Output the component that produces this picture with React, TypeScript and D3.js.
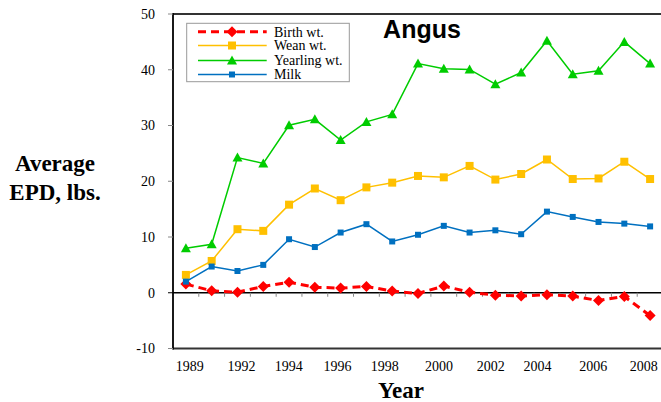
import React from 'react';
import * as d3 from 'd3';

const categories = ['1989','1991','1992','1993','1994','1995','1996','1997','1998','1999','2000','2001','2002','2003','2004','2005','2006','2007','2008'];
const birthWt = [1.55,0.35,0.1,1.13,1.9,1.0,0.83,1.13,0.3,-0.13,1.2,0.1,-0.43,-0.6,-0.36,-0.6,-1.4,-0.66,-4.1];
const weanWt = [3.2,5.7,11.4,11.1,15.8,18.7,16.6,18.9,19.75,20.95,20.7,22.75,20.3,21.3,23.9,20.4,20.5,23.5,20.4];
const yearlingWt = [8.0,8.7,24.25,23.2,30.05,31.1,27.4,30.65,32.0,41.1,40.2,40.05,37.4,39.5,45.2,39.2,39.8,45.0,41.1];
const milk = [2.0,4.7,3.9,5.0,9.6,8.2,10.8,12.3,9.2,10.4,12.0,10.8,11.2,10.5,14.55,13.6,12.7,12.4,11.9];
const yTicks = [-10,0,10,20,30,40,50];
const xTickLabels = ['1989','1992','1994','1996','1998','2000','2002','2004','2006','2008'];
const xTickLabelIndex = [0.15,2.16,3.99,5.88,7.71,9.81,11.82,13.63,15.8,17.75];

const seriesNames = ['Birth wt.','Wean wt.','Yearling wt.','Milk'];

const SERIF = "'Liberation Serif', 'Times New Roman', Times, serif";
const SANS = "'Liberation Sans', Arial, Helvetica, sans-serif";

export default function App() {
  const W = 661, H = 402;
  const left = 173, right = 663, top = 14, bottom = 348.5;
  const x = d3.scaleBand<number>().domain(d3.range(categories.length)).range([left, right]).paddingInner(0).paddingOuter(0);
  const bw = x.bandwidth();
  const cx = (i: number) => (x(i) as number) + bw / 2;
  const xLin = d3.scaleLinear().domain([0, categories.length - 1]).range([cx(0), cx(categories.length - 1)]);
  const y = d3.scaleLinear().domain([-10, 50]).range([bottom, top]);
  const line = d3.line<number>().x((_, i) => cx(i)).y(d => y(d));

  const series = [
    { name: seriesNames[0], data: birthWt, color: '#FF0000', width: 3, dash: '8,5', marker: 'diamond', size: 5.5 },
    { name: seriesNames[1], data: weanWt, color: '#FFC000', width: 1.5, dash: undefined, marker: 'square', size: 4 },
    { name: seriesNames[2], data: yearlingWt, color: '#00CC00', width: 1.5, dash: undefined, marker: 'triangle', size: 5 },
    { name: seriesNames[3], data: milk, color: '#0070C0', width: 1.5, dash: undefined, marker: 'square', size: 3 },
  ];

  const marker = (kind: string, px: number, py: number, s: number, color: string, key: string | number) => {
    if (kind === 'diamond') {
      return <path key={key} d={`M${px},${py - s}L${px + s},${py}L${px},${py + s}L${px - s},${py}Z`} fill={color} />;
    }
    if (kind === 'triangle') {
      return <path key={key} d={`M${px},${py - s}L${px + s},${py + s * 0.8}L${px - s},${py + s * 0.8}Z`} fill={color} />;
    }
    return <rect key={key} x={px - s} y={py - s} width={2 * s} height={2 * s} fill={color} />;
  };

  const legendRows = [31.7, 45.5, 60.5, 74.5];

  return (
    <svg width={W} height={H} style={{ position: 'absolute', left: 0, top: 0, background: '#fff' }}>
      <line x1={left} x2={W} y1={top} y2={top} stroke="#333" strokeWidth={1.8} />
      <line x1={left} x2={W} y1={bottom} y2={bottom} stroke="#333" strokeWidth={1.8} />
      <line x1={left} x2={left} y1={top - 0.9} y2={bottom + 0.9} stroke="#000" strokeWidth={1.8} />
      {yTicks.map(t => (
        <g key={t}>
          <line x1={left - 5} x2={left} y1={y(t)} y2={y(t)} stroke={t === 0 ? '#000' : '#888'} strokeWidth={1} />
          <text x={155} y={y(t)} dy="0.35em" textAnchor="end" fontFamily={SERIF} fontSize={14} fill="#000">{t}</text>
        </g>
      ))}
      <line x1={left} x2={W} y1={y(0)} y2={y(0)} stroke="#000" strokeWidth={1.5} />
      {d3.range(1, categories.length).map(i => (
        <line key={i} x1={x(i) as number} x2={x(i) as number} y1={y(0)} y2={y(0) + 4} stroke="#888" strokeWidth={1} />
      ))}
      {xTickLabels.map((l, i) => (
        <text key={l} x={xLin(xTickLabelIndex[i])} y={371} textAnchor="middle" fontFamily={SERIF} fontSize={14} fill="#000">{l}</text>
      ))}
      {series.map(s => (
        <g key={s.name}>
          <path d={line(s.data) || ''} fill="none" stroke={s.color} strokeWidth={s.width} strokeDasharray={s.dash} />
          {s.data.map((v, i) => marker(s.marker, cx(i), y(v), s.size, s.color, i))}
        </g>
      ))}
      <rect x={186.7} y={23.3} width={162.6} height={58.4} fill="#fff" stroke="#999" strokeWidth={1} />
      {series.map((s, i) => (
        <g key={s.name}>
          <line x1={198} x2={266.7} y1={legendRows[i]} y2={legendRows[i]} stroke={s.color} strokeWidth={s.width} strokeDasharray={s.dash} />
          {marker(s.marker, 232, legendRows[i], s.size, s.color, 'm')}
          <text x={274} y={legendRows[i]} dy="0.35em" fontFamily={SERIF} fontSize={14} fill="#000">{s.name}</text>
        </g>
      ))}
      <text x={422} y={38} textAnchor="middle" fontFamily={SANS} fontWeight="bold" fontSize={25} fill="#000">Angus</text>
      <text x={55} y={171} textAnchor="middle" fontFamily={SERIF} fontWeight="bold" fontSize={23} fill="#000">Average</text>
      <text x={55} y={200} textAnchor="middle" fontFamily={SERIF} fontWeight="bold" fontSize={23} fill="#000">EPD, lbs.</text>
      <text x={401} y={398} textAnchor="middle" fontFamily={SERIF} fontWeight="bold" fontSize={23} fill="#000">Year</text>
    </svg>
  );
}
